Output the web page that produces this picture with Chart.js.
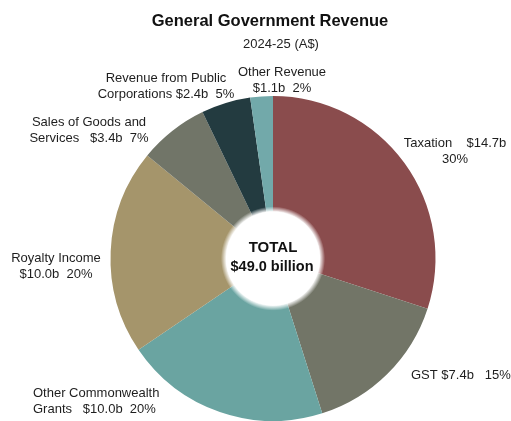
<!DOCTYPE html>
<html>
<head>
<meta charset="utf-8">
<script src="https://cdn.jsdelivr.net/npm/chart.js@4/dist/chart.umd.min.js"></script>
<style>
  html, body { margin: 0; padding: 0; background: #ffffff; }
  #wrap { width: 511px; height: 421px; position: relative; }
</style>
</head>
<body>
<div id="wrap"><canvas id="c" width="511" height="421"></canvas></div>
<script>
// ---- Data ----
const categories = [
  "Taxation",
  "GST",
  "Other Commonwealth Grants",
  "Royalty Income",
  "Sales of Goods and Services",
  "Revenue from Public Corporations",
  "Other Revenue"
];
const values = [14.7, 7.4, 10.0, 10.0, 3.4, 2.4, 1.1]; // A$ billion
const titleText = "General Government Revenue";
const subtitleText = "2024-25 (A$)";

// ---- Styles / layout ----
const colors = ["#8a4c4d", "#727567", "#6aa4a1", "#a5956b", "#717568", "#233b40", "#72a9aa"];
// label line templates: {v} = value, {p} = percent
const labelLines = [
  ["Taxation    {v}", "{p}"],
  ["GST {v}   {p}"],
  ["Other Commonwealth", "Grants   {v}  {p}"],
  ["Royalty Income", "{v}  {p}"],
  ["Sales of Goods and", "Services   {v}  {p}"],
  ["Revenue from Public", "Corporations {v}  {p}"],
  ["Other Revenue", "{v}  {p}"]
];
// label anchor positions (x, y of first line) and alignment
const labelPos = [
  {x: 455, y: 143, align: "center"},
  {x: 411, y: 375, align: "left"},
  {x: 33,  y: 393, align: "left"},
  {x: 56,  y: 258, align: "center"},
  {x: 89,  y: 122, align: "center"},
  {x: 166, y: 78,  align: "center"},
  {x: 282, y: 72,  align: "center"}
];

const total = values.reduce((a, b) => a + b, 0);

const holeGlow = {
  id: "holeGlow",
  afterDatasetsDraw(chart) {
    const arc = chart.getDatasetMeta(0).data[0];
    const ctx = chart.ctx;
    const r = arc.innerRadius;
    ctx.save();
    const g = ctx.createRadialGradient(arc.x, arc.y, r, arc.x, arc.y, r + 5);
    g.addColorStop(0, "rgba(255,255,255,0.9)");
    g.addColorStop(1, "rgba(255,255,255,0)");
    ctx.fillStyle = g;
    ctx.beginPath();
    ctx.arc(arc.x, arc.y, r + 5, 0, Math.PI * 2);
    ctx.fill();
    ctx.restore();
  }
};

const textPlugin = {
  id: "textPlugin",
  afterDraw(chart) {
    const ctx = chart.ctx;
    ctx.save();
    // Title
    ctx.fillStyle = "#111111";
    ctx.textAlign = "center";
    ctx.textBaseline = "middle";
    ctx.font = "bold 16.5px 'Liberation Sans', Arial, sans-serif";
    ctx.fillText(titleText, 270, 21);
    ctx.font = "13px 'Liberation Sans', Arial, sans-serif";
    ctx.fillStyle = "#222222";
    ctx.fillText(subtitleText, 281, 44);

    // Segment labels
    ctx.font = "13px 'Liberation Sans', Arial, sans-serif";
    ctx.fillStyle = "#1e1e1e";
    values.forEach((v, i) => {
      const pct = Math.round(v / total * 100) + "%";
      const val = "$" + v.toFixed(1) + "b";
      const pos = labelPos[i];
      ctx.textAlign = pos.align;
      labelLines[i].forEach((tpl, k) => {
        const s = tpl.replace("{v}", val).replace("{p}", pct);
        ctx.fillText(s, pos.x, pos.y + k * 16);
      });
    });

    // Centre text
    const arc = chart.getDatasetMeta(0).data[0];
    const cx = arc.x, cy = arc.y;
    ctx.fillStyle = "#111111";
    ctx.textAlign = "center";
    ctx.font = "bold 15px 'Liberation Sans', Arial, sans-serif";
    ctx.fillText("TOTAL", cx, cy - 11);
    ctx.font = "bold 14.5px 'Liberation Sans', Arial, sans-serif";
    ctx.fillText("$" + total.toFixed(1) + " billion", cx - 1, cy + 8);
    ctx.restore();
  }
};

new Chart(document.getElementById("c"), {
  type: "doughnut",
  data: {
    labels: categories,
    datasets: [{
      data: values,
      backgroundColor: colors,
      borderWidth: 0,
      hoverOffset: 0
    }]
  },
  options: {
    responsive: false,
    animation: false,
    cutout: "29%",
    layout: { padding: { left: 110, right: 75, top: 96, bottom: 0 } },
    plugins: {
      legend: { display: false },
      title: { display: false },
      tooltip: { enabled: false }
    }
  },
  plugins: [holeGlow, textPlugin]
});
</script>
</body>
</html>
